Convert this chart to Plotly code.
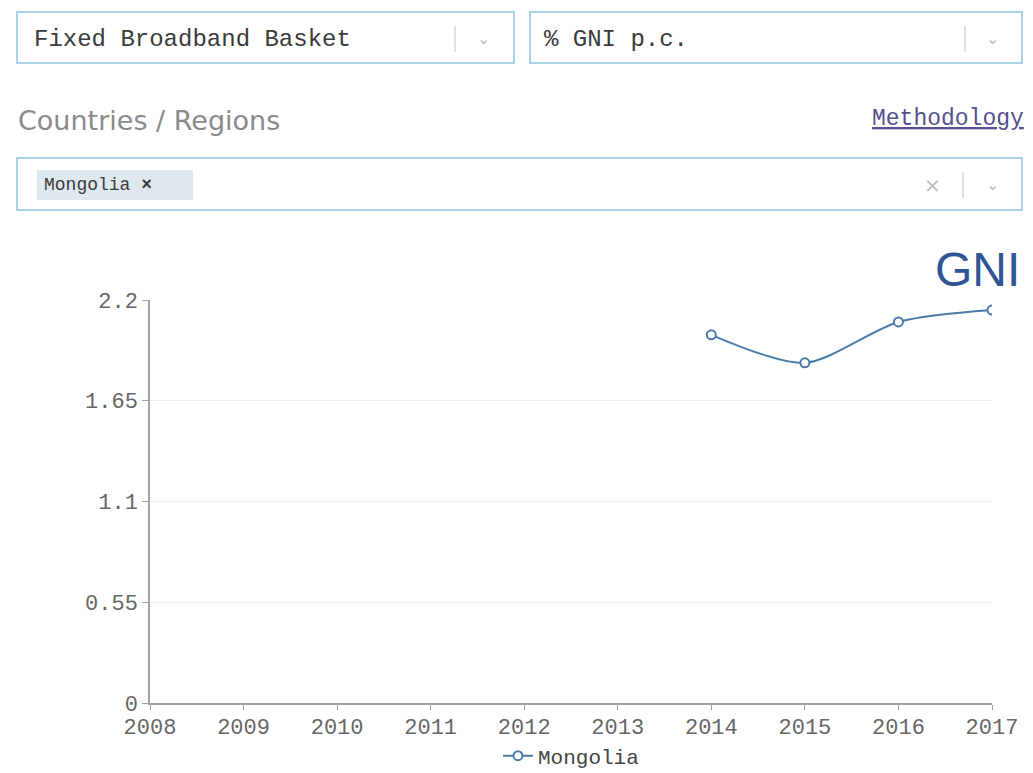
import plotly.graph_objects as go

years = [2014, 2015, 2016, 2017]
values = [2.01, 1.857, 2.08, 2.145]
y_ticks = [0, 0.55, 1.1, 1.65, 2.2]
y_tick_labels = ["0", "0.55", "1.1", "1.65", "2.2"]
x_ticks = list(range(2008, 2018))

W, H = 1033, 773
L, R, T, B = 150, 992, 300, 703

def px(x):
    return (x - L) / (R - L)

def py(y):
    return (B - y) / (B - T)

mono = "Liberation Mono"
fig = go.Figure()
fig.add_trace(go.Scatter(
    x=years, y=values, mode="lines+markers", name="Mongolia",
    line=dict(color="#4a7bab", width=2, shape="spline", smoothing=0.8),
    marker=dict(symbol="circle", size=9, color="white",
                line=dict(color="#4a7bab", width=2)),
))

shapes = []
def box(x0, y0, x1, y1, line="#a9d3ea", fill="white", w=2):
    shapes.append(dict(type="rect", xref="paper", yref="paper",
                       x0=px(x0), x1=px(x1), y0=py(y1), y1=py(y0),
                       line=dict(color=line, width=w), fillcolor=fill, layer="above"))

def vline(x, y0, y1, color="#d9d9d9"):
    shapes.append(dict(type="line", xref="paper", yref="paper",
                       x0=px(x), x1=px(x), y0=py(y1), y1=py(y0),
                       line=dict(color=color, width=1.5), layer="above"))

box(17, 12, 514, 63)
box(530, 12, 1022, 63)
box(17, 158, 1022, 210)
box(37, 170, 193, 200, line="#dfe8ef", fill="#dfe8ef", w=0)
vline(455, 26, 52)
vline(965, 26, 52)
vline(963, 172, 198)

ann = []
def text(x, y, s, size, color, family=mono, xanchor="left", **kw):
    ann.append(dict(xref="paper", yref="paper", x=px(x), y=py(y), text=s,
                    showarrow=False, xanchor=xanchor, yanchor="middle",
                    font=dict(size=size, color=color, family=family), **kw))

text(32, 39, "Fixed Broadband Basket", 24, "#3a3a3a")
text(542, 40, "% GNI p.c.", 24, "#3a3a3a")
text(483, 40, "⌄", 16, "#bbbbbb", xanchor="center")
text(993, 40, "⌄", 16, "#bbbbbb", xanchor="center")
text(993, 186, "⌄", 16, "#bbbbbb", xanchor="center")
text(932, 185, "×", 20, "#bbbbbb", family="DejaVu Sans", xanchor="center")
text(16, 120, "Countries / Regions", 27, "#8a8a8a", family="DejaVu Sans")
text(1026, 119, "<u>Methodology</u>", 23, "#55508f", xanchor="right")
text(42, 185, "Mongolia <b>×</b>", 18, "#3a3a3a")
text(1022, 269, "GNI", 48, "#2f5597", family="Liberation Sans", xanchor="right")

fig.update_layout(
    width=W, height=H,
    margin=dict(l=L, r=W - R, t=T, b=H - B, pad=0, autoexpand=False),
    paper_bgcolor="white", plot_bgcolor="white",
    shapes=shapes, annotations=ann,
    showlegend=True,
    legend=dict(orientation="h", x=0.5, xanchor="center", y=py(756), yanchor="middle",
                bgcolor="rgba(0,0,0,0)",
                font=dict(family=mono, size=21, color="#444444")),
    xaxis=dict(range=[2008, 2017], tickvals=x_ticks, ticktext=[str(v) for v in x_ticks],
               showgrid=False, zeroline=False, showline=True, linecolor="#a0a0a8", linewidth=1.5,
               ticks="outside", ticklen=5, tickcolor="#a0a0a8", ticklabelstandoff=-2,
               tickfont=dict(family=mono, size=22, color="#666666")),
    yaxis=dict(range=[0, 2.2], tickvals=y_ticks, ticktext=y_tick_labels,
               showgrid=True, gridcolor="#ededed", zeroline=False, showline=True,
               linecolor="#a0a0a8", linewidth=1.5,
               ticks="outside", ticklen=6, tickcolor="#a0a0a8",
               tickfont=dict(family=mono, size=22, color="#666666")),
)

fig.write_html("out.html", config={"displayModeBar": False},
               post_script="document.body.style.margin='0';document.body.style.overflow='hidden';")
